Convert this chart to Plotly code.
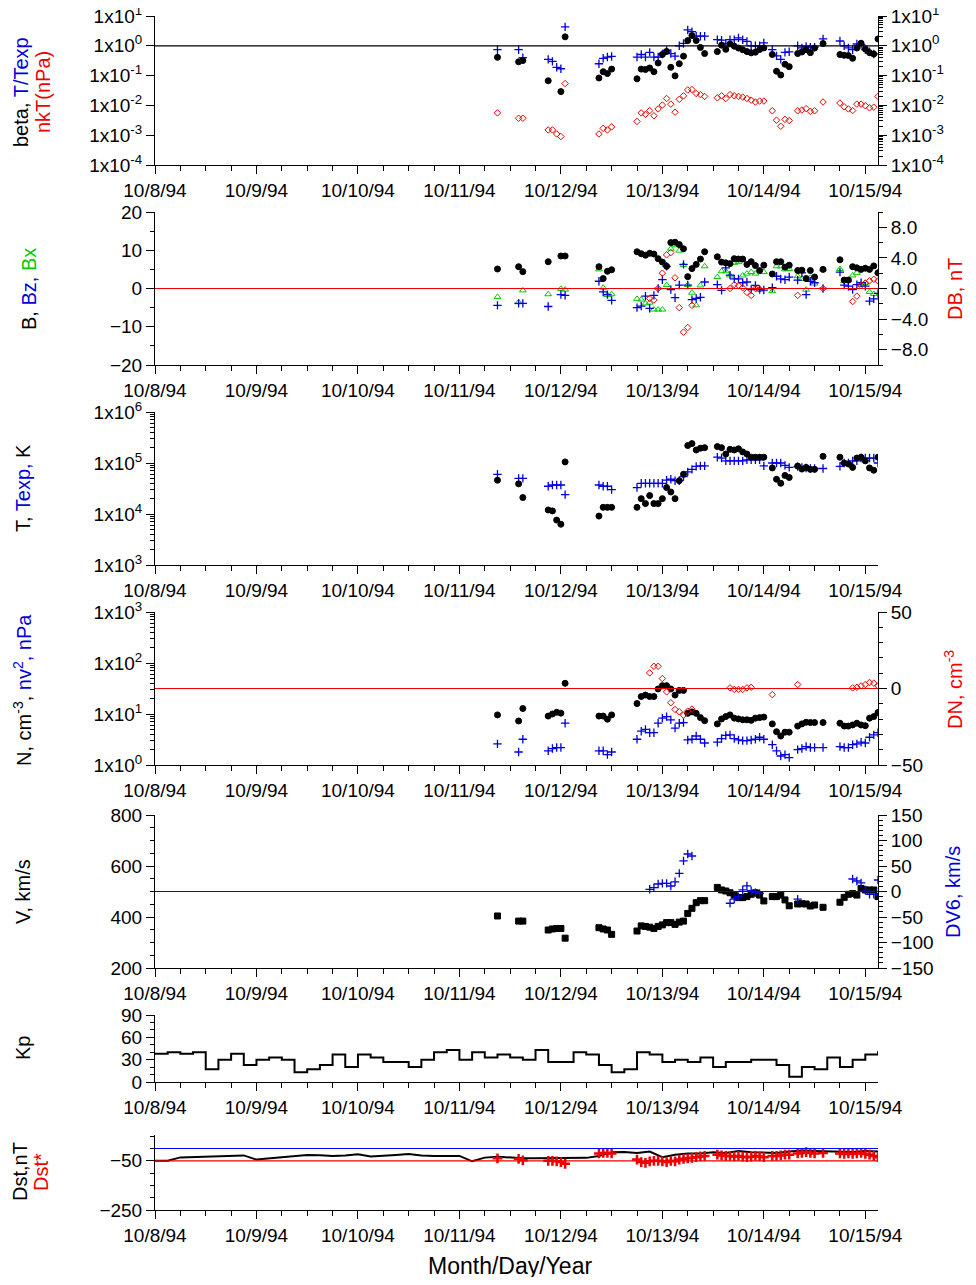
import plotly.graph_objects as go
import pandas as pd

N = None
base = pd.Timestamp("1994-10-08")
hours = [81,86,87,93,94,95,96,97,105,106,107,108,114,115,116,117,118,119,120,121,122,123,124,125,126,127,128,129,130,
         133,134,135,136,137,138,139,140,141,142,143,144,146,147,148,149,150,152,153,154,155,156,158,162,163,164,165,166,167,168,169,170,171]

beta = [0.41,0.29,0.32,0.067,N,N,0.029,2.0, 0.083,0.135,0.117,0.165,
        0.078,0.165,0.16,0.18,0.135,0.265,0.51,0.65,0.19,0.098,0.25,0.45,1.5,2.2,1.5,0.88,0.55,
        0.64,1.05,0.76,1.16,0.97,0.84,0.74,0.64,0.58,0.61,0.75,0.85, 0.51,0.14,0.105,0.24,0.2,
        0.55,0.62,0.74,0.59,0.84, 1.19, 0.51,0.48,0.47,0.38,0.84,1.22,0.78,0.59,0.53,1.7]
t_texp = [0.74,0.74,0.4,0.35,0.30,0.19,0.17,4.3, 0.25,0.38,0.42,0.44,
          0.42,0.51,0.42,0.6,0.42,0.42,0.53,0.7,0.55,0.45,1.0,1.2,3.4,3.0,2.1,2.1,2.1,
          1.6,1.55,1.2,1.6,1.6,1.85,1.6,1.4,1.0,1.0,1.0,1.25, 0.74,0.46,0.35,0.6,0.63,
          1.0,0.85,0.95,0.9,0.9, 1.7, 1.45,1.0,0.85,0.74,1.15,1.1,0.74,0.63,0.53,N]
nkt = [0.0056,0.0037,0.0037,0.0015,0.0015,0.0011,0.0009,0.054, 0.0011,0.0017,0.0015,0.0019,
       0.0029,0.0056,0.005,0.0067,0.0045,0.0076,0.0103,0.017,0.011,0.0059,0.016,0.021,0.033,0.034,0.025,0.023,0.02,
       0.018,0.021,0.017,0.023,0.021,0.02,0.019,0.017,0.015,0.013,0.014,0.014, 0.0066,0.0032,0.002,0.0034,0.0031,
       0.0066,0.007,0.0078,0.0063,0.0066, 0.013, 0.012,0.009,0.0076,0.0067,0.011,0.011,0.0098,0.0083,0.0087,0.02]
b = [5.1,5.7,4.4,7.0,N,N,8.5,8.5, 5.7,2.6,4.5,4.9,
     9.6,9.1,8.7,9.2,9.0,7.8,6.9,5.8,12,12.1,11.5,10.4,3.1,5.2,6.3,7.7,9.6,
     8.3,6.9,6.7,6.5,7.8,7.7,7.7,6.3,7.0,6.0,4.7,6.1, 3.8,7.0,7.0,5.6,6.1,
     4.7,4.8,2.6,4.7,3.0, 5.0, 7.5,2.2,2.2,5.7,5.4,5.0,5.3,5.0,5.9,4.1]
bz = [-4.4,-3.9,-3.9,-4.7,N,N,-1.6,-1.8, 1.9,-0.9,-1.6,-3.1,
      -5,-4.6,-2,-5.2,-1.8,0,2.3,5.8,-0.3,-2.4,0.9,6.3,0.9,-2.9,-2.6,-2.3,1.7,
      1.0,-0.5,5.4,3.5,2.5,2.5,1.5,1.7,-0.3,0.8,-0.3,-0.4, 0.2,3.2,2.5,2.3,3.0,
      2.2,4.1,-1.6,1.9,1.5, 0, 4.3,0.9,0.6,-0.3,1.0,1.5,0.6,-3.3,-2.7,-1.3]
bx = [-2.2,-3.6,-0.5,-1.5,N,N,-0.1,-0.3, 5.0,0.2,-1.7,-1.5,
      -2.7,-2.9,-3.9,-3.7,-5.5,-5.5,-5.5,0.9,10.4,11.3,9.9,6.1,0.9,-1.1,-4.4,0.8,5.8,
      3.0,4.5,4.5,3.4,6.7,6.9,3.4,3.9,4.3,3.9,-0.3,4.3, -0.7,5.8,5.8,5.0,5.1,
      3.2,2.5,-0.3,2.8,1.3, 5.0, 5.1,1.9,2.2,3.4,4.1,1.0,1.5,-0.9,-1.4,4.3]
db = [N]*8 + [N]*4 + [N,N,N,-1.3,-1.5,0,2.0,4.4,4.7,1.4,-2.5,-5.7,-5.1,-2.2,N,N,N] + \
     [N,N,N,0,0.5,0.4,0.1,-0.5,-0.9,0,-0.1,N] + [N]*5 + [-0.9,N,N,N,N] + [0] + \
     [N,N,N,-1.7,-1.0,0.4,0.7,1.0,1.2,1.0]
temp = [4.6e4,3.9e4,2.1e4,1.2e4,1.15e4,7.6e3,6.3e3,1.05e5, 9.1e3,1.35e4,1.35e4,1.35e4,
        1.35e4,2.0e4,1.6e4,2.3e4,1.6e4,1.6e4,2.0e4,3.3e4,2.7e4,2.0e4,4.5e4,6.0e4,2.2e5,2.4e5,1.8e5,1.95e5,2.0e5,
        2.1e5,2.0e5,1.5e5,1.85e5,1.8e5,1.9e5,1.65e5,1.5e5,1.3e5,1.3e5,1.3e5,1.3e5, 8.0e4,4.8e4,4.0e4,5.7e4,5.2e4,
        8.7e4,7.6e4,8.2e4,7.5e4,7.5e4, 1.35e5, 1.3e5,1.0e5,9.6e4,8.2e4,1.25e5,1.3e5,1.1e5,8.0e4,7.2e4,1.3e5]
texp = [6.0e4,5.0e4,5.0e4,3.5e4,3.7e4,3.7e4,3.7e4,2.4e4, 3.7e4,3.5e4,3.5e4,3.0e4,
        3.3e4,4.0e4,4.0e4,4.0e4,4.0e4,4.0e4,4.0e4,4.6e4,4.8e4,4.5e4,4.5e4,5.4e4,6.7e4,7.5e4,8.6e4,8.8e4,8.8e4,
        1.3e5,1.25e5,1.1e5,1.1e5,1.1e5,1.1e5,1.1e5,1.15e5,1.15e5,1.15e5,1.15e5,8.8e4, 1.0e5,1.0e5,1.0e5,9.0e4,8.2e4,
        8.5e4,8.2e4,8.0e4,7.8e4,7.8e4, 7.8e4, 8.6e4,1.0e5,1.0e5,1.1e5,1.1e5,1.25e5,1.25e5,1.25e5,1.25e5,1.0e5]
dens = [9.6,7.3,12.8,9.1,10,10.8,10.4,40, 9.1,9.1,7.9,9.6,
        16,22,23.5,22,22,31,36,36,31,23.5,29,29,10.3,11,10.3,8.5,7.4,
        6.4,8,8.9,9.6,8.3,8,7.7,7.7,7.5,8.3,8.5,8.7, 6.4,4.5,3.7,4.4,4.4,
        5.8,6.4,6.9,6.8,6.8, 6.8, 6.6,5.8,5.8,6.1,6.6,6.1,5.9,8.3,8.9,10.7]
nv2 = [2.6,1.8,3.2,1.9,2.1,2.2,2.2,6.6, 1.9,1.9,1.6,1.8,
       3.2,4.6,5.0,4.3,4.3,6.6,8.3,8.9,7.7,5.3,6.6,6.8,3.1,3.2,3.7,3.2,2.7,
       2.8,3.3,3.8,3.9,3.3,3.1,3.0,3.0,3.1,3.2,3.5,3.2, 2.5,1.9,1.5,1.6,1.4,
       2.0,2.1,2.3,2.2,2.2, 2.2, 2.3,2.2,2.2,2.5,2.6,2.8,2.7,3.5,3.9,4.3]
dn = [N]*8 + [N]*4 + [N,N,N,10.2,14.5,14.5,6.5,-2.2,-9.3,-13.7,-15.2,-17.4,-14.8,-13.5,N,N,N] + \
     [N,N,N,0.4,-0.6,-0.6,-0.6,0.4,0.8,N,N,N] + [-4,N,N,N,N] + [2.6,N,N,N,N] + [N] + \
     [N,N,N,0.4,0.8,1.7,2.6,3.9,3.5,1.7]
vel = [404,384,384,349,353,355,355,317, 358,353,349,332,
       345,365,363,360,355,363,369,378,378,371,380,384,414,434,456,464,464,
       516,506,502,495,486,476,476,480,489,495,486,463, 480,480,486,467,444,
       451,452,451,443,447, 438, 458,477,489,492,486,512,506,506,506,480]
dv6 = [N]*8 + [N]*4 + [N,N,N,4.3,7.5,14.7,16,16,10.8,19,35.6,60,73.5,69.6,N,N,N] + \
      [N,N,N,-23,-15,-10,3,11,1.6,-2.3,-3.6,N] + [N]*5 + [-15,N,N,N,N] + [N] + \
      [N,N,N,24.5,20.6,17,3,-5.5,-5.5,22.5]
dst_star = [-40,-42,-48,-50,-50,-52,-55,-62, -20,-18,-18,-20,
            -45,-55,-58,-52,-50,-50,-52,-55,-50,-52,-45,-42,-40,-38,-35,-32,-30,
            -25,-28,-30,-30,-32,-30,-33,-35,-33,-30,-32,-35, -30,-30,-28,-25,-25,
            -20,-18,-15,-18,-20, -18, -20,-22,-20,-22,-20,-18,-22,-25,-30,-35]
kp = [38,40,38,40,17,30,38,23,30,33,30,13,17,23,37,20,37,33,27,27,20,30,40,43,30,40,33,37,33,30,
      43,27,27,40,37,23,13,17,40,37,27,30,27,33,20,27,27,30,30,23,7,20,17,33,20,30,37,40]
dst = [-50,-50,-36,-35,-33,-31,-30,-28,-45,-40,-35,-30,-26,-27,-30,-28,-23,-32,-30,-26,
       -22,-28,-30,-30,-30,-52,-37,-33,-38,-40,-40,-40,-40,-40,-38,-30,-15,-14,-18,-12,
       -35,-25,-20,-20,-15,-18,-10,-15,-17,-18,-12,-8,-10,-12,-15,-14,-10,-12]

t = [base + pd.Timedelta(hours=h) for h in hours]
t3 = [base + pd.Timedelta(hours=3 * k) for k in range(len(kp))]
kp_t = t3 + [base + pd.Timedelta(hours=171.5)]
kp_v = kp + [kp[-1]]
xr = [base, base + pd.Timedelta(hours=171)]

OFF = 8  # page body margin
W, H = 976 - 2 * OFF, 1285 - 2 * OFF
def yd(top, bot):
    return [1 - (bot - OFF) / H, 1 - (top - OFF) / H]
doms = [yd(16, 165), yd(212, 365), yd(412, 565), yd(612, 765), yd(815, 968), yd(1015, 1082), yd(1135, 1210)]
xdom = [(155 - OFF) / W, (878 - OFF) / W]
FONT = "Liberation Sans, Arial, sans-serif"
BLUE = "#0000dd"; LBLUE = "#0000ff"; RED = "#ee0000"; GREEN = "#00cc00"

fig = go.Figure()
def sc(x, y, yaxis, xaxis, sym, color, size=6, mode="markers", line=None, lw=1):
    d = dict(x=x, y=y, xaxis=xaxis, yaxis=yaxis, mode=mode, showlegend=False, hoverinfo="skip")
    if mode == "markers":
        d["marker"] = dict(symbol=sym, color=color, size=size, line=dict(color=color, width=lw))
    else:
        d["line"] = line
    fig.add_trace(go.Scatter(**d))

# panel 1
sc(t, nkt, "y", "x", "diamond-open", RED, 5)
sc(t, t_texp, "y", "x", "cross-thin", BLUE, 6, lw=1.3)
sc(t, beta, "y", "x", "circle", "black", 6)
sc(t, beta, "y8", "x", "circle", "rgba(0,0,0,0)", 1, lw=0)
# panel 2
sc(t, db, "y9", "x2", "diamond-open", RED, 5)
sc(t, bx, "y2", "x2", "triangle-up-open", GREEN, 6)
sc(t, bz, "y2", "x2", "cross-thin", BLUE, 6, lw=1.3)
sc(t, b, "y2", "x2", "circle", "black", 6)
# panel 3
sc(t, texp, "y3", "x3", "cross-thin", BLUE, 6, lw=1.3)
sc(t, temp, "y3", "x3", "circle", "black", 6)
# panel 4
sc(t, dn, "y10", "x4", "diamond-open", RED, 5)
sc(t, nv2, "y4", "x4", "cross-thin", BLUE, 6, lw=1.3)
sc(t, dens, "y4", "x4", "circle", "black", 6)
# panel 5
sc(t, dv6, "y11", "x5", "cross-thin", BLUE, 6, lw=1.3)
sc(t, vel, "y5", "x5", "square", "black", 6)
# panel 6
sc(kp_t, kp_v, "y6", "x6", None, None, mode="lines", line=dict(color="black", width=2, shape="hv"))
# panel 7
sc(t3, dst, "y7", "x7", None, None, mode="lines", line=dict(color="black", width=2))
sc(t, dst_star, "y7", "x7", "cross-thin", RED, 7, lw=2.5)

tick = dict(ticks="outside", ticklen=8, tickwidth=1, tickcolor="black", showline=True, linecolor="black",
            linewidth=1, showgrid=False, zeroline=False, automargin=False, ticklabeloverflow="allow",
            tickfont=dict(family=FONT, size=19, color="black"))
lay = dict(width=W, height=H, margin=dict(l=0, r=0, t=0, b=0), plot_bgcolor="white", paper_bgcolor="white",
           font=dict(family=FONT, color="black"))
for i in range(7):
    k = "" if i == 0 else str(i + 1)
    lay["xaxis" + k] = dict(domain=xdom, anchor="y" + k, range=xr, type="date", dtick=86400000,
                            tick0=base, tickformat="%-m/%-d/94",
                            minor=dict(dtick=6 * 3600000, ticks="outside", ticklen=5, tickcolor="black"), **tick)

def logticks(lo, hi):
    return [10 ** e for e in range(lo, hi + 1)], ["1x10<sup>%d</sup>" % e for e in range(lo, hi + 1)]
def logminor(lo, hi):
    return dict(tickvals=[m * 10 ** e for e in range(lo, hi) for m in range(2, 10)],
                ticks="outside", ticklen=4, tickcolor="black", showgrid=False)
v1, t1 = logticks(-4, 1)
lay["yaxis"] = dict(domain=doms[0], anchor="x", type="log", range=[-4, 1], tickvals=v1, ticktext=t1, **tick)
lay["yaxis8"] = dict(domain=doms[0], anchor="x", overlaying="y", side="right", type="log", range=[-4, 1],
                     tickvals=v1, ticktext=t1, minor=logminor(-4, 1), **tick)
lay["yaxis2"] = dict(domain=doms[1], anchor="x2", range=[-20, 20], dtick=10,
                     minor=dict(dtick=5, ticks="outside", ticklen=4, tickcolor="black"), **tick)
lay["yaxis9"] = dict(domain=doms[1], anchor="x2", overlaying="y2", side="right", range=[-10, 10],
                     tickvals=[-8, -4, 0, 4, 8], tickformat=".1f",
                     minor=dict(dtick=2, ticks="outside", ticklen=4, tickcolor="black"), **tick)
v3, t3l = logticks(3, 6)
lay["yaxis3"] = dict(domain=doms[2], anchor="x3", type="log", range=[3, 6], tickvals=v3, ticktext=t3l,
                     minor=logminor(3, 6), **tick)
v4, t4 = logticks(0, 3)
lay["yaxis4"] = dict(domain=doms[3], anchor="x4", type="log", range=[0, 3], tickvals=v4, ticktext=t4,
                     minor=logminor(0, 3), **tick)
lay["yaxis10"] = dict(domain=doms[3], anchor="x4", overlaying="y4", side="right", range=[-50, 50], dtick=50,
                      minor=dict(dtick=10, ticks="outside", ticklen=4, tickcolor="black"), **tick)
lay["yaxis5"] = dict(domain=doms[4], anchor="x5", range=[200, 800], dtick=200,
                     minor=dict(dtick=50, ticks="outside", ticklen=4, tickcolor="black"), **tick)
lay["yaxis11"] = dict(domain=doms[4], anchor="x5", overlaying="y5", side="right", range=[-150, 150], dtick=50,
                      minor=dict(dtick=10, ticks="outside", ticklen=4, tickcolor="black"), **tick)
lay["yaxis6"] = dict(domain=doms[5], anchor="x6", range=[0, 90], dtick=30,
                     minor=dict(dtick=10, ticks="outside", ticklen=4, tickcolor="black"), **tick)
lay["yaxis7"] = dict(domain=doms[6], anchor="x7", range=[-250, 55], tickvals=[-50, -250],
                     minor=dict(tickvals=[50, 0, -100, -150, -200], ticks="outside", ticklen=4, tickcolor="black"), **tick)
fig.update_layout(**lay)

def hline(y, yref, xref, color):
    fig.add_shape(type="line", xref=xref + " domain", yref=yref, x0=0, x1=1, y0=y, y1=y,
                  line=dict(color=color, width=1.2))
hline(1, "y", "x", "black")
hline(0, "y2", "x2", RED)
hline(0, "y10", "x4", RED)
hline(0, "y11", "x5", LBLUE)
hline(0, "y7", "x7", LBLUE)
hline(-50, "y7", "x7", RED)

def lab(xpx, ypx, text, color="black", size=20, angle=-90):
    fig.add_annotation(xref="paper", yref="paper", x=(xpx - OFF) / W, y=1 - (ypx - OFF) / H, text=text,
                       showarrow=False, xanchor="center", yanchor="middle",
                       textangle=angle, font=dict(family=FONT, size=size, color=color))
def s(c, txt):
    return "<span style='color:%s'>%s</span>" % (c, txt)
lab(21, 92, "beta, " + s(BLUE, "T/Texp"))
lab(43, 92, "nkT(nPa)", RED)
lab(29, 289, "B, " + s(BLUE, "Bz, ") + s(GREEN, "Bx"))
lab(955, 289, "DB, nT", RED)
lab(23, 488, "T, " + s(BLUE, "Texp, ") + "K")
lab(22, 690, "N, cm<sup>-3</sup>, " + s(BLUE, "nv<sup>2</sup>, nPa"))
lab(953, 690, "DN, cm<sup>-3</sup>", RED)
lab(23, 892, "V, km/s")
lab(953, 892, "DV6, km/s", BLUE)
lab(23, 1048, "Kp")
lab(20, 1172, "Dst,nT")
lab(41, 1172, "Dst*", RED)
lab(510, 1266, "Month/Day/Year", angle=0, size=23)

fig.write_html("out.html")
